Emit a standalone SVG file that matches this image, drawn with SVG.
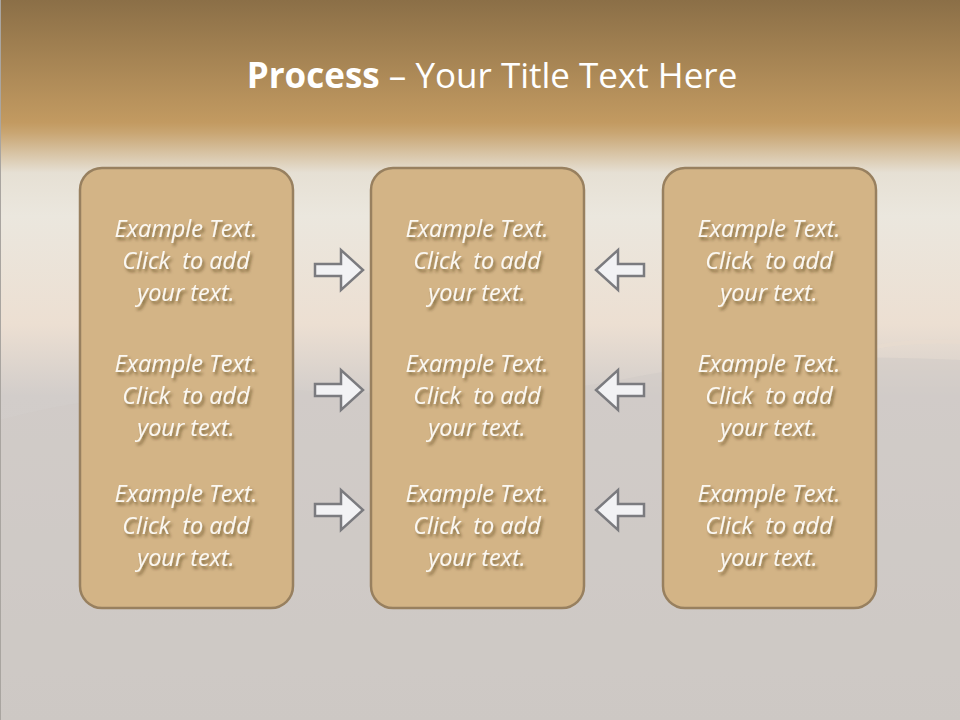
<svg xmlns="http://www.w3.org/2000/svg" width="960" height="720" viewBox="0 0 960 720">
<defs>
<linearGradient id="bg" x1="0" y1="0" x2="0" y2="1">
<stop offset="0" stop-color="#8b6f47"/>
<stop offset="0.17" stop-color="#c29a61"/>
<stop offset="0.185" stop-color="#c9a673"/>
<stop offset="0.24" stop-color="#e6e0d4"/>
<stop offset="0.3" stop-color="#ebe7de"/>
<stop offset="0.45" stop-color="#ecdfd2"/>
<stop offset="0.55" stop-color="#d2cdca"/>
<stop offset="1" stop-color="#cbc7c3"/>
</linearGradient>
<filter id="ts" x="-10%" y="-20%" width="130%" height="150%">
<feGaussianBlur in="SourceAlpha" stdDeviation="1.5"/>
<feOffset dx="2" dy="3" result="b"/>
<feFlood flood-color="#3a2a10" flood-opacity="0.55"/>
<feComposite in2="b" operator="in"/>
<feMerge><feMergeNode/><feMergeNode in="SourceGraphic"/></feMerge>
</filter>
<path id="ra" d="M0,-6 H26 V-20 L48,0 L26,20 V6 H0 Z"/>
</defs>
<style>
.box{fill:#d3b486;stroke:#98805f;stroke-width:2.5}
.t{font-family:"Open Sans","Liberation Sans",sans-serif;font-style:italic;font-size:23.5px;fill:#fbf8f2;text-anchor:middle;white-space:pre}
.arr{fill:#f2f2f4;stroke:#7b7b7f;stroke-width:2.5;stroke-linejoin:miter}
.title{font-family:"Open Sans","Liberation Sans",sans-serif;font-size:35px;fill:#ffffff;text-anchor:middle}
</style>
<rect width="960" height="720" fill="url(#bg)"/>
<path d="M0,420 Q150,380 330,392 Q520,400 620,380 Q760,350 960,360 V720 H0 Z" fill="#cfcac6" opacity="0.5"/>
<path d="M870,348 Q910,340 960,342" fill="none" stroke="#e8dccf" stroke-width="4" opacity="0.7"/>
<line x1="0.5" y1="0" x2="0.5" y2="720" stroke="#a9a5a0" stroke-width="1"/>
<text class="title" x="492" y="88"><tspan font-weight="bold">Process</tspan> – Your Title Text Here</text>
<g id="box1"><rect class="box" x="80" y="168" width="213" height="440" rx="22"/>
<g class="t" filter="url(#ts)">
<text x="186" y="237">Example Text.</text><text x="186" y="269" xml:space="preserve">Click  to add</text><text x="186" y="301">your text.</text>
<text x="186" y="372">Example Text.</text><text x="186" y="404" xml:space="preserve">Click  to add</text><text x="186" y="436">your text.</text>
<text x="186" y="502">Example Text.</text><text x="186" y="534" xml:space="preserve">Click  to add</text><text x="186" y="566">your text.</text>
</g></g>
<g id="box2"><rect class="box" x="371" y="168" width="213" height="440" rx="22"/>
<g class="t" filter="url(#ts)">
<text x="477" y="237">Example Text.</text><text x="477" y="269" xml:space="preserve">Click  to add</text><text x="477" y="301">your text.</text>
<text x="477" y="372">Example Text.</text><text x="477" y="404" xml:space="preserve">Click  to add</text><text x="477" y="436">your text.</text>
<text x="477" y="502">Example Text.</text><text x="477" y="534" xml:space="preserve">Click  to add</text><text x="477" y="566">your text.</text>
</g></g>
<g id="box3"><rect class="box" x="663" y="168" width="213" height="440" rx="22"/>
<g class="t" filter="url(#ts)">
<text x="769" y="237">Example Text.</text><text x="769" y="269" xml:space="preserve">Click  to add</text><text x="769" y="301">your text.</text>
<text x="769" y="372">Example Text.</text><text x="769" y="404" xml:space="preserve">Click  to add</text><text x="769" y="436">your text.</text>
<text x="769" y="502">Example Text.</text><text x="769" y="534" xml:space="preserve">Click  to add</text><text x="769" y="566">your text.</text>
</g></g>
<g id="connectors">
<use href="#ra" class="arr" transform="translate(315,270)"/>
<use href="#ra" class="arr" transform="translate(315,390)"/>
<use href="#ra" class="arr" transform="translate(315,510)"/>
<use href="#ra" class="arr" transform="translate(644,270) scale(-1,1)"/>
<use href="#ra" class="arr" transform="translate(644,390) scale(-1,1)"/>
<use href="#ra" class="arr" transform="translate(644,510) scale(-1,1)"/>
</g>
</svg>
